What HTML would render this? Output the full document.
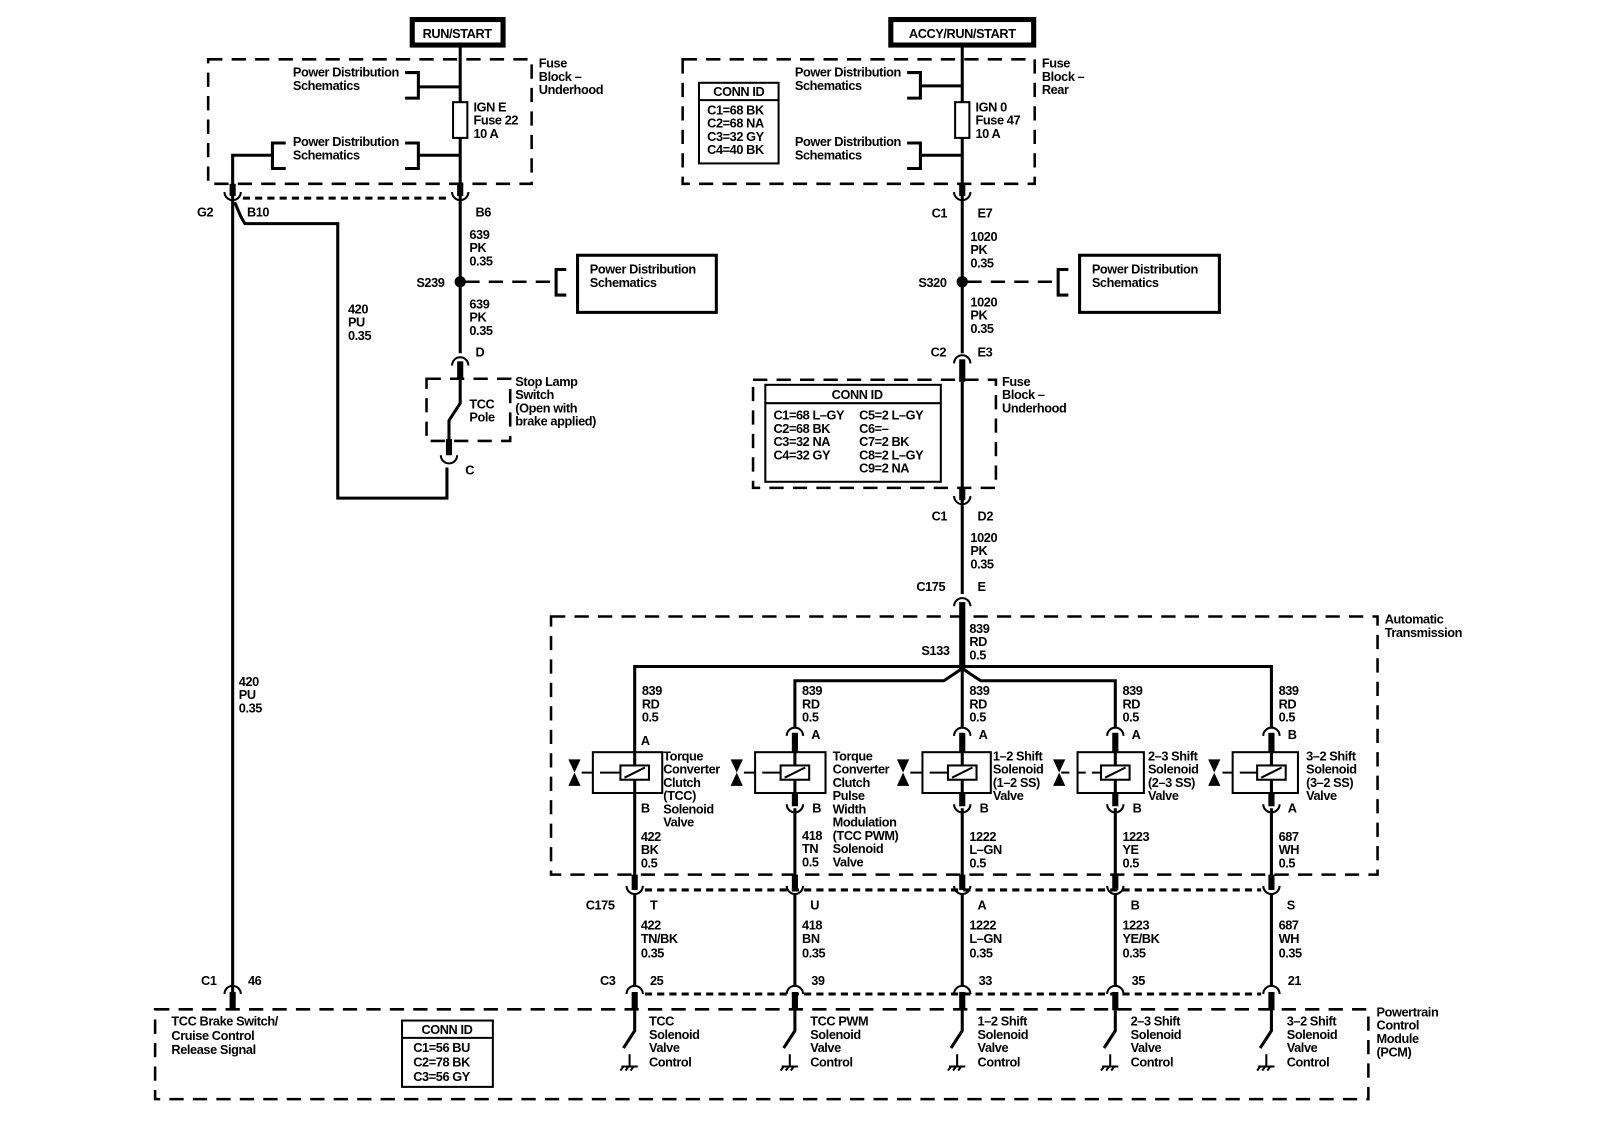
<!DOCTYPE html>
<html><head><meta charset="utf-8"><style>
html,body{margin:0;padding:0;background:#fff;}
svg{display:block}
text{font-family:"Liberation Sans",Arial,sans-serif;font-size:12.5px;font-weight:bold;fill:#000;letter-spacing:-0.4px}
.w{stroke:#000;stroke-width:3;fill:none}
.t{stroke:#000;stroke-width:2;fill:none}
.d{stroke:#000;stroke-width:2.5;fill:none;stroke-dasharray:14 9}
.dd{stroke:#000;stroke-width:3;fill:none;stroke-dasharray:7 5}
.stub{stroke:#000;stroke-width:6;fill:none}
</style></head><body>
<svg width="1600" height="1136" viewBox="0 0 1568 1113" xmlns="http://www.w3.org/2000/svg">
<rect x="0" y="0" width="1568" height="1113" fill="#fff"/>

<!-- ===== Top left: RUN/START ===== -->
<rect x="404" y="19" width="89" height="25" fill="#fff" stroke="#000" stroke-width="5"/>
<text x="448" y="37" text-anchor="middle">RUN/START</text>
<rect x="204" y="58" width="317" height="122" class="d"/>
<line x1="451" y1="44" x2="451" y2="100" class="w"/>
<rect x="444" y="100" width="14" height="35" class="t" stroke-width="2.5"/>
<line x1="451" y1="135" x2="451" y2="188" class="w"/>
<text x="464" y="109">IGN E</text><text x="464" y="122">Fuse 22</text><text x="464" y="135">10 A</text>
<text x="528" y="66">Fuse</text><text x="528" y="79">Block –</text><text x="528" y="92">Underhood</text>
<text x="287" y="75">Power Distribution</text><text x="287" y="88">Schematics</text>
<path d="M397 71 H410 V96 H397 M410 85 H451" class="w"/>
<text x="287" y="143">Power Distribution</text><text x="287" y="156">Schematics</text>
<path d="M397 140 H410 V165 H397 M410 152 H451" class="w"/>
<path d="M280 140 H267 V165 H280 M267 152 H228 V188" class="w"/>
<!-- C2 connector -->
<line x1="228" y1="180" x2="228" y2="192" class="stub"/>
<line x1="451" y1="180" x2="451" y2="192" class="stub"/>
<path d="M220 188 A8 8 0 0 0 236 188" class="t" stroke-width="2.5"/>
<path d="M443 188 A8 8 0 0 0 459 188" class="t" stroke-width="2.5"/>
<line x1="238" y1="194" x2="442" y2="194" class="dd"/>
<text x="193" y="212">G2</text><text x="242" y="212">B10</text><text x="466" y="212">B6</text>
<!-- left wire -->
<line x1="228" y1="192" x2="228" y2="988" class="w"/>
<path d="M230 198 L236 212 L240 219 H331 V488 H438 V458" class="w"/>
<text x="341" y="307">420</text><text x="341" y="320">PU</text><text x="341" y="333">0.35</text>
<text x="234" y="672">420</text><text x="234" y="685">PU</text><text x="234" y="698">0.35</text>
<!-- column 451 -->
<line x1="451" y1="192" x2="451" y2="346" class="w"/>
<text x="460" y="234">639</text><text x="460" y="247">PK</text><text x="460" y="260">0.35</text>
<circle cx="451" cy="276" r="5.5" fill="#000"/>
<text x="408" y="281">S239</text>
<line x1="456" y1="276" x2="540" y2="276" class="d"/>
<path d="M555 264 H545 V289 H555" class="w"/>
<rect x="566" y="250" width="136" height="56" class="w" stroke-width="2.5"/>
<text x="578" y="268">Power Distribution</text><text x="578" y="281">Schematics</text>
<text x="460" y="302">639</text><text x="460" y="315">PK</text><text x="460" y="328">0.35</text>
<path d="M443 358 A8 8 0 0 1 459 358" class="t" stroke-width="2.5"/>
<text x="466" y="349">D</text>
<line x1="451" y1="354" x2="451" y2="372" class="stub"/>
<rect x="418" y="371" width="82" height="61" class="d"/>
<text x="505" y="378">Stop Lamp</text><text x="505" y="391">Switch</text><text x="505" y="404">(Open with</text><text x="505" y="417">brake applied)</text>
<text x="460" y="400">TCC</text><text x="460" y="413">Pole</text>
<path d="M451 372 V395 L440 412 V432" class="w"/>
<line x1="440" y1="430" x2="440" y2="446" class="stub"/>
<path d="M432 446 A8 8 0 0 0 448 446" class="t" stroke-width="2.5"/>
<text x="456" y="465">C</text>

<!-- ===== Top right: ACCY/RUN/START ===== -->
<rect x="873" y="19" width="140" height="25" fill="#fff" stroke="#000" stroke-width="5"/>
<text x="943" y="37" text-anchor="middle">ACCY/RUN/START</text>
<rect x="669" y="58" width="345" height="122" class="d"/>
<line x1="943" y1="44" x2="943" y2="100" class="w"/>
<rect x="936" y="100" width="14" height="35" class="t" stroke-width="2.5"/>
<line x1="943" y1="135" x2="943" y2="188" class="w"/>
<text x="956" y="109">IGN 0</text><text x="956" y="122">Fuse 47</text><text x="956" y="135">10 A</text>
<text x="1021" y="66">Fuse</text><text x="1021" y="79">Block –</text><text x="1021" y="92">Rear</text>
<rect x="685" y="81" width="78" height="79" class="t" stroke-width="2.5"/>
<line x1="685" y1="98" x2="763" y2="98" class="t"/>
<text x="724" y="94" text-anchor="middle">CONN ID</text>
<text x="693" y="112">C1=68 BK</text><text x="693" y="125">C2=68 NA</text><text x="693" y="138">C3=32 GY</text><text x="693" y="151">C4=40 BK</text>
<text x="779" y="75">Power Distribution</text><text x="779" y="88">Schematics</text>
<path d="M889 71 H902 V96 H889 M902 84 H943" class="w"/>
<text x="779" y="143">Power Distribution</text><text x="779" y="156">Schematics</text>
<path d="M889 140 H902 V165 H889 M902 152 H943" class="w"/>
<line x1="943" y1="180" x2="943" y2="192" class="stub"/>
<path d="M935 188 A8 8 0 0 0 951 188" class="t" stroke-width="2.5"/>
<text x="913" y="213">C1</text><text x="958" y="213">E7</text>
<line x1="943" y1="192" x2="943" y2="346" class="w"/>
<text x="951" y="236">1020</text><text x="951" y="249">PK</text><text x="951" y="262">0.35</text>
<circle cx="943" cy="276" r="5.5" fill="#000"/>
<text x="900" y="281">S320</text>
<line x1="948" y1="276" x2="1032" y2="276" class="d"/>
<path d="M1047 264 H1037 V289 H1047" class="w"/>
<rect x="1058" y="250" width="137" height="56" class="w" stroke-width="2.5"/>
<text x="1070" y="268">Power Distribution</text><text x="1070" y="281">Schematics</text>
<text x="951" y="300">1020</text><text x="951" y="313">PK</text><text x="951" y="326">0.35</text>
<path d="M935 356 A8 8 0 0 1 951 356" class="t" stroke-width="2.5"/>
<text x="912" y="349">C2</text><text x="958" y="349">E3</text>
<line x1="943" y1="352" x2="943" y2="374" class="stub"/>
<rect x="738" y="372" width="238" height="106" class="d"/>
<line x1="943" y1="374" x2="943" y2="492" class="w"/>
<rect x="750" y="377" width="172" height="95" class="t" stroke-width="2.5"/>
<line x1="750" y1="395" x2="922" y2="395" class="t"/>
<text x="840" y="391" text-anchor="middle">CONN ID</text>
<text x="758" y="411">C1=68 L–GY</text><text x="758" y="424">C2=68 BK</text><text x="758" y="437">C3=32 NA</text><text x="758" y="450">C4=32 GY</text>
<text x="842" y="411">C5=2 L–GY</text><text x="842" y="424">C6=–</text><text x="842" y="437">C7=2 BK</text><text x="842" y="450">C8=2 L–GY</text><text x="842" y="463">C9=2 NA</text>
<text x="982" y="378">Fuse</text><text x="982" y="391">Block –</text><text x="982" y="404">Underhood</text>
<line x1="943" y1="478" x2="943" y2="490" class="stub"/>
<path d="M935 486 A8 8 0 0 0 951 486" class="t" stroke-width="2.5"/>
<text x="913" y="510">C1</text><text x="958" y="510">D2</text>
<line x1="943" y1="490" x2="943" y2="582" class="w"/>
<text x="951" y="531">1020</text><text x="951" y="544">PK</text><text x="951" y="557">0.35</text>
<path d="M935 594 A8 8 0 0 1 951 594" class="t" stroke-width="2.5"/>
<text x="898" y="579">C175</text><text x="958" y="579">E</text>
<line x1="943" y1="590" x2="943" y2="655" class="stub"/>

<!-- ===== Automatic transmission ===== -->
<rect x="540" y="604" width="810" height="253" class="d"/>
<text x="1357" y="611">Automatic</text><text x="1357" y="624">Transmission</text>
<text x="950" y="620">839</text><text x="950" y="633">RD</text><text x="950" y="646">0.5</text>
<text x="903" y="642">S133</text>
<circle cx="943" cy="653" r="3" fill="#000"/>
<path d="M622 737 V653 H1246 V713" class="w"/>
<path d="M779 713 V667 H925 L943 655 L961 667 H1093 V713" class="w"/>
<line x1="943" y1="653" x2="943" y2="713" class="w"/>

<!-- Solenoid columns -->
<g id="sol">
</g>
<!-- col1 x=622 -->
<text x="629" y="681">839</text><text x="629" y="694">RD</text><text x="629" y="707">0.5</text>
<text x="628" y="730">A</text>
<rect x="581" y="737" width="68" height="40" class="t" stroke-width="2.5"/>
<rect x="608" y="750" width="28" height="14" class="t" stroke-width="2.5"/>
<line x1="612" y1="762" x2="632" y2="752" class="t"/>
<line x1="622" y1="737" x2="622" y2="750" class="w"/><line x1="622" y1="764" x2="622" y2="777" class="w"/>
<path d="M570 757 H581 M588 757 H608" class="t" stroke-width="2.5"/>
<path d="M557 744 H569 L557 770 H569 Z" fill="#000"/>
<text x="628" y="796">B</text>
<line x1="622" y1="777" x2="622" y2="868" class="w"/>
<text x="650" y="745">Torque</text><text x="650" y="758">Converter</text><text x="650" y="771">Clutch</text><text x="650" y="784">(TCC)</text><text x="650" y="797">Solenoid</text><text x="650" y="810">Valve</text>
<text x="628" y="824">422</text><text x="628" y="837">BK</text><text x="628" y="850">0.5</text>

<!-- col2 x=779 -->
<text x="786" y="681">839</text><text x="786" y="694">RD</text><text x="786" y="707">0.5</text>
<path d="M771 721 A8 8 0 0 1 787 721" class="t" stroke-width="2.5"/>
<text x="795" y="724">A</text>
<line x1="779" y1="718" x2="779" y2="737" class="stub"/>
<rect x="740" y="737" width="69" height="40" class="t" stroke-width="2.5"/>
<rect x="765" y="750" width="28" height="14" class="t" stroke-width="2.5"/>
<line x1="769" y1="762" x2="789" y2="752" class="t"/>
<line x1="779" y1="737" x2="779" y2="750" class="w"/><line x1="779" y1="764" x2="779" y2="777" class="w"/>
<path d="M729 757 H740 M747 757 H765" class="t" stroke-width="2.5"/>
<path d="M716 744 H728 L716 770 H728 Z" fill="#000"/>
<line x1="779" y1="777" x2="779" y2="790" class="stub"/>
<path d="M771 788 A8 8 0 0 0 787 788" class="t" stroke-width="2.5"/>
<text x="796" y="796">B</text>
<line x1="779" y1="792" x2="779" y2="868" class="w"/>
<text x="816" y="745">Torque</text><text x="816" y="758">Converter</text><text x="816" y="771">Clutch</text><text x="816" y="784">Pulse</text><text x="816" y="797">Width</text><text x="816" y="810">Modulation</text><text x="816" y="823">(TCC PWM)</text><text x="816" y="836">Solenoid</text><text x="816" y="849">Valve</text>
<text x="786" y="823">418</text><text x="786" y="836">TN</text><text x="786" y="849">0.5</text>

<!-- col3 x=943 -->
<text x="950" y="681">839</text><text x="950" y="694">RD</text><text x="950" y="707">0.5</text>
<path d="M935 721 A8 8 0 0 1 951 721" class="t" stroke-width="2.5"/>
<text x="959" y="724">A</text>
<line x1="943" y1="718" x2="943" y2="737" class="stub"/>
<rect x="904" y="737" width="67" height="40" class="t" stroke-width="2.5"/>
<rect x="929" y="750" width="28" height="14" class="t" stroke-width="2.5"/>
<line x1="933" y1="762" x2="953" y2="752" class="t"/>
<line x1="943" y1="737" x2="943" y2="750" class="w"/><line x1="943" y1="764" x2="943" y2="777" class="w"/>
<path d="M892 757 H904 M911 757 H929" class="t" stroke-width="2.5"/>
<path d="M879 744 H891 L879 770 H891 Z" fill="#000"/>
<line x1="943" y1="777" x2="943" y2="790" class="stub"/>
<path d="M935 788 A8 8 0 0 0 951 788" class="t" stroke-width="2.5"/>
<text x="960" y="796">B</text>
<line x1="943" y1="792" x2="943" y2="868" class="w"/>
<text x="973" y="745">1–2 Shift</text><text x="973" y="758">Solenoid</text><text x="973" y="771">(1–2 SS)</text><text x="973" y="784">Valve</text>
<text x="950" y="824">1222</text><text x="950" y="837">L–GN</text><text x="950" y="850">0.5</text>
<path d="M1032 744 H1044 L1032 770 H1044 Z" fill="#000"/>

<!-- col4 x=1093 -->
<text x="1100" y="681">839</text><text x="1100" y="694">RD</text><text x="1100" y="707">0.5</text>
<path d="M1085 721 A8 8 0 0 1 1101 721" class="t" stroke-width="2.5"/>
<text x="1109" y="724">A</text>
<line x1="1093" y1="718" x2="1093" y2="737" class="stub"/>
<rect x="1056" y="737" width="65" height="40" class="t" stroke-width="2.5"/>
<rect x="1079" y="750" width="28" height="14" class="t" stroke-width="2.5"/>
<line x1="1083" y1="762" x2="1103" y2="752" class="t"/>
<line x1="1093" y1="737" x2="1093" y2="750" class="w"/><line x1="1093" y1="764" x2="1093" y2="777" class="w"/>
<path d="M1056 757 H1064 M1070 757 H1079" class="t" stroke-width="2.5"/>
<line x1="1093" y1="777" x2="1093" y2="790" class="stub"/>
<path d="M1085 788 A8 8 0 0 0 1101 788" class="t" stroke-width="2.5"/>
<text x="1110" y="796">B</text>
<line x1="1093" y1="792" x2="1093" y2="868" class="w"/>
<text x="1125" y="745">2–3 Shift</text><text x="1125" y="758">Solenoid</text><text x="1125" y="771">(2–3 SS)</text><text x="1125" y="784">Valve</text>
<text x="1100" y="824">1223</text><text x="1100" y="837">YE</text><text x="1100" y="850">0.5</text>
<path d="M1184 744 H1196 L1184 770 H1196 Z" fill="#000"/>
<path d="M1040 757 H1048" class="t" stroke-width="2.5"/>

<!-- col5 x=1246 -->
<text x="1253" y="681">839</text><text x="1253" y="694">RD</text><text x="1253" y="707">0.5</text>
<path d="M1238 721 A8 8 0 0 1 1254 721" class="t" stroke-width="2.5"/>
<text x="1262" y="724">B</text>
<line x1="1246" y1="718" x2="1246" y2="737" class="stub"/>
<rect x="1208" y="737" width="64" height="40" class="t" stroke-width="2.5"/>
<rect x="1232" y="750" width="28" height="14" class="t" stroke-width="2.5"/>
<line x1="1236" y1="762" x2="1256" y2="752" class="t"/>
<line x1="1246" y1="737" x2="1246" y2="750" class="w"/><line x1="1246" y1="764" x2="1246" y2="777" class="w"/>
<path d="M1198 757 H1208 M1215 757 H1232" class="t" stroke-width="2.5"/>
<line x1="1246" y1="777" x2="1246" y2="790" class="stub"/>
<path d="M1238 788 A8 8 0 0 0 1254 788" class="t" stroke-width="2.5"/>
<text x="1262" y="796">A</text>
<line x1="1246" y1="792" x2="1246" y2="868" class="w"/>
<text x="1280" y="745">3–2 Shift</text><text x="1280" y="758">Solenoid</text><text x="1280" y="771">(3–2 SS)</text><text x="1280" y="784">Valve</text>
<text x="1253" y="824">687</text><text x="1253" y="837">WH</text><text x="1253" y="850">0.5</text>

<!-- C175 row -->
<g class="stub"><line x1="622" y1="857" x2="622" y2="872"/><line x1="779" y1="857" x2="779" y2="872"/><line x1="943" y1="857" x2="943" y2="872"/><line x1="1093" y1="857" x2="1093" y2="872"/><line x1="1246" y1="857" x2="1246" y2="872"/></g>
<g class="t" stroke-width="2.5"><path d="M614 868 A8 8 0 0 0 630 868"/><path d="M771 868 A8 8 0 0 0 787 868"/><path d="M935 868 A8 8 0 0 0 951 868"/><path d="M1085 868 A8 8 0 0 0 1101 868"/><path d="M1238 868 A8 8 0 0 0 1254 868"/></g>
<line x1="632" y1="872" x2="1236" y2="872" class="dd"/>
<text x="574" y="891">C175</text>
<text x="637" y="891">T</text><text x="794" y="891">U</text><text x="958" y="891">A</text><text x="1108" y="891">B</text><text x="1261" y="891">S</text>
<g class="w"><line x1="622" y1="876" x2="622" y2="966"/><line x1="779" y1="876" x2="779" y2="966"/><line x1="943" y1="876" x2="943" y2="966"/><line x1="1093" y1="876" x2="1093" y2="966"/><line x1="1246" y1="876" x2="1246" y2="966"/></g>
<text x="628" y="911">422</text><text x="628" y="924">TN/BK</text><text x="628" y="938">0.35</text>
<text x="786" y="911">418</text><text x="786" y="924">BN</text><text x="786" y="938">0.35</text>
<text x="950" y="911">1222</text><text x="950" y="924">L–GN</text><text x="950" y="938">0.35</text>
<text x="1100" y="911">1223</text><text x="1100" y="924">YE/BK</text><text x="1100" y="938">0.35</text>
<text x="1253" y="911">687</text><text x="1253" y="924">WH</text><text x="1253" y="938">0.35</text>

<!-- C3 / C1 row -->
<g class="t" stroke-width="2.5"><path d="M220 974 A8 8 0 0 1 236 974"/><path d="M614 974 A8 8 0 0 1 630 974"/><path d="M771 974 A8 8 0 0 1 787 974"/><path d="M935 974 A8 8 0 0 1 951 974"/><path d="M1085 974 A8 8 0 0 1 1101 974"/><path d="M1238 974 A8 8 0 0 1 1254 974"/></g>
<line x1="632" y1="974" x2="1236" y2="974" class="dd"/>
<g class="stub"><line x1="228" y1="972" x2="228" y2="990"/><line x1="622" y1="972" x2="622" y2="990"/><line x1="779" y1="972" x2="779" y2="990"/><line x1="943" y1="972" x2="943" y2="990"/><line x1="1093" y1="972" x2="1093" y2="990"/><line x1="1246" y1="972" x2="1246" y2="990"/></g>
<text x="197" y="965">C1</text><text x="243" y="965">46</text>
<text x="588" y="965">C3</text>
<text x="637" y="965">25</text><text x="795" y="965">39</text><text x="959" y="965">33</text><text x="1109" y="965">35</text><text x="1262" y="965">21</text>

<!-- PCM -->
<rect x="152" y="989" width="1189" height="88" class="d"/>
<text x="1349" y="996">Powertrain</text><text x="1349" y="1009">Control</text><text x="1349" y="1022">Module</text><text x="1349" y="1035">(PCM)</text>
<text x="168" y="1005">TCC Brake Switch/</text><text x="168" y="1019">Cruise Control</text><text x="168" y="1033">Release Signal</text>
<rect x="394" y="1000" width="89" height="65" class="t" stroke-width="2.5"/>
<line x1="394" y1="1017" x2="483" y2="1017" class="t"/>
<text x="438" y="1013" text-anchor="middle">CONN ID</text>
<text x="405" y="1031">C1=56 BU</text><text x="405" y="1045">C2=78 BK</text><text x="405" y="1059">C3=56 GY</text>

<!-- PCM switches -->
<g class="w">
<path d="M622 990 V1010 L611 1027"/><path d="M779 990 V1010 L768 1027"/><path d="M943 990 V1010 L932 1027"/><path d="M1093 990 V1010 L1082 1027"/><path d="M1246 990 V1010 L1235 1027"/>
</g>
<g class="t" stroke-width="2.5">
<path d="M617 1033 V1045 M609 1045 H625 M611 1045 L608 1049 M616 1045 L613 1049 M621 1045 L618 1049"/>
<path d="M774 1033 V1045 M766 1045 H782 M768 1045 L765 1049 M773 1045 L770 1049 M778 1045 L775 1049"/>
<path d="M938 1033 V1045 M930 1045 H946 M932 1045 L929 1049 M937 1045 L934 1049 M942 1045 L939 1049"/>
<path d="M1088 1033 V1045 M1080 1045 H1096 M1082 1045 L1079 1049 M1087 1045 L1084 1049 M1092 1045 L1089 1049"/>
<path d="M1241 1033 V1045 M1233 1045 H1249 M1235 1045 L1232 1049 M1240 1045 L1237 1049 M1245 1045 L1242 1049"/>
</g>
<text x="636" y="1005">TCC</text><text x="636" y="1018">Solenoid</text><text x="636" y="1031">Valve</text><text x="636" y="1045">Control</text>
<text x="794" y="1005">TCC PWM</text><text x="794" y="1018">Solenoid</text><text x="794" y="1031">Valve</text><text x="794" y="1045">Control</text>
<text x="958" y="1005">1–2 Shift</text><text x="958" y="1018">Solenoid</text><text x="958" y="1031">Valve</text><text x="958" y="1045">Control</text>
<text x="1108" y="1005">2–3 Shift</text><text x="1108" y="1018">Solenoid</text><text x="1108" y="1031">Valve</text><text x="1108" y="1045">Control</text>
<text x="1261" y="1005">3–2 Shift</text><text x="1261" y="1018">Solenoid</text><text x="1261" y="1031">Valve</text><text x="1261" y="1045">Control</text>
</svg>
</body></html>
